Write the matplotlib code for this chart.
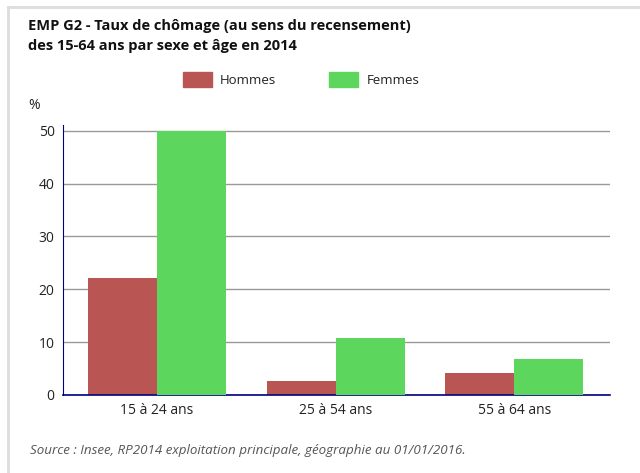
import matplotlib.pyplot as plt
import numpy as np
from matplotlib.patches import Rectangle
from matplotlib.lines import Line2D

plt.rcParams['font.family'] = ['Open Sans', 'DejaVu Sans']

categories = ['15 à 24 ans', '25 à 54 ans', '55 à 64 ans']
hommes = [22.2, 2.6, 4.2]
femmes = [49.9, 10.7, 6.8]
yticks = [0, 10, 20, 30, 40, 50]

fig = plt.figure(figsize=(6.4, 4.73), dpi=100)
ax = fig.add_axes([0.0984, 0.165, 0.855, 0.571])

x = np.arange(len(categories))
w = 0.387
ax.bar(x - w / 2, hommes, w, color='#b95553', label='Hommes', zorder=2)
ax.bar(x + w / 2, femmes, w, color='#5cd65c', label='Femmes', zorder=3)

ax.set_xlim(-0.527, 2.538)
ax.set_ylim(0, 51.1)
ax.set_yticks(yticks)
ax.set_xticks(x)
ax.set_xticklabels(categories)
ax.yaxis.grid(True, color='#999999', linewidth=1, zorder=1)
ax.tick_params(axis='both', length=0, labelsize=10, colors='#222222')
ax.tick_params(axis='x', pad=6)
ax.tick_params(axis='y', pad=6)
for s in ['top', 'right']:
    ax.spines[s].set_visible(False)
ax.spines['left'].set_color('#000080')
ax.spines['bottom'].set_color('#000080')
ax.spines['bottom'].set_linewidth(1.2)

fig.text(0.044, 0.945, 'EMP G2 - Taux de chômage (au sens du recensement)',
         fontsize=10.5, fontweight='bold', va='center', color='#111111')
fig.text(0.044, 0.903, 'des 15-64 ans par sexe et âge en 2014',
         fontsize=10.5, fontweight='bold', va='center', color='#111111')
fig.text(0.044, 0.778, '%', fontsize=10, va='center', color='#222222')

fig.patches.append(Rectangle((183 / 640, 1 - 87 / 473), 29 / 640, 15 / 473,
                             transform=fig.transFigure, color='#b95553'))
fig.text(220 / 640, 1 - 80 / 473, 'Hommes', fontsize=9.5, va='center', color='#222222')
fig.patches.append(Rectangle((329 / 640, 1 - 87 / 473), 29 / 640, 15 / 473,
                             transform=fig.transFigure, color='#5cd65c'))
fig.text(367 / 640, 1 - 80 / 473, 'Femmes', fontsize=9.5, va='center', color='#222222')

fig.text(0.047, 1 - 450 / 473,
         'Source : Insee, RP2014 exploitation principale, géographie au 01/01/2016.',
         fontsize=9.6, style='italic', va='center', color='#555555')

fig.lines.append(Line2D([8 / 640, 1], [1 - 7 / 473, 1 - 7 / 473],
                        transform=fig.transFigure, color='#dddddd', linewidth=2))
fig.lines.append(Line2D([8 / 640, 8 / 640], [0, 1 - 7 / 473],
                        transform=fig.transFigure, color='#dddddd', linewidth=2))

fig.savefig('out.png', dpi=100)
